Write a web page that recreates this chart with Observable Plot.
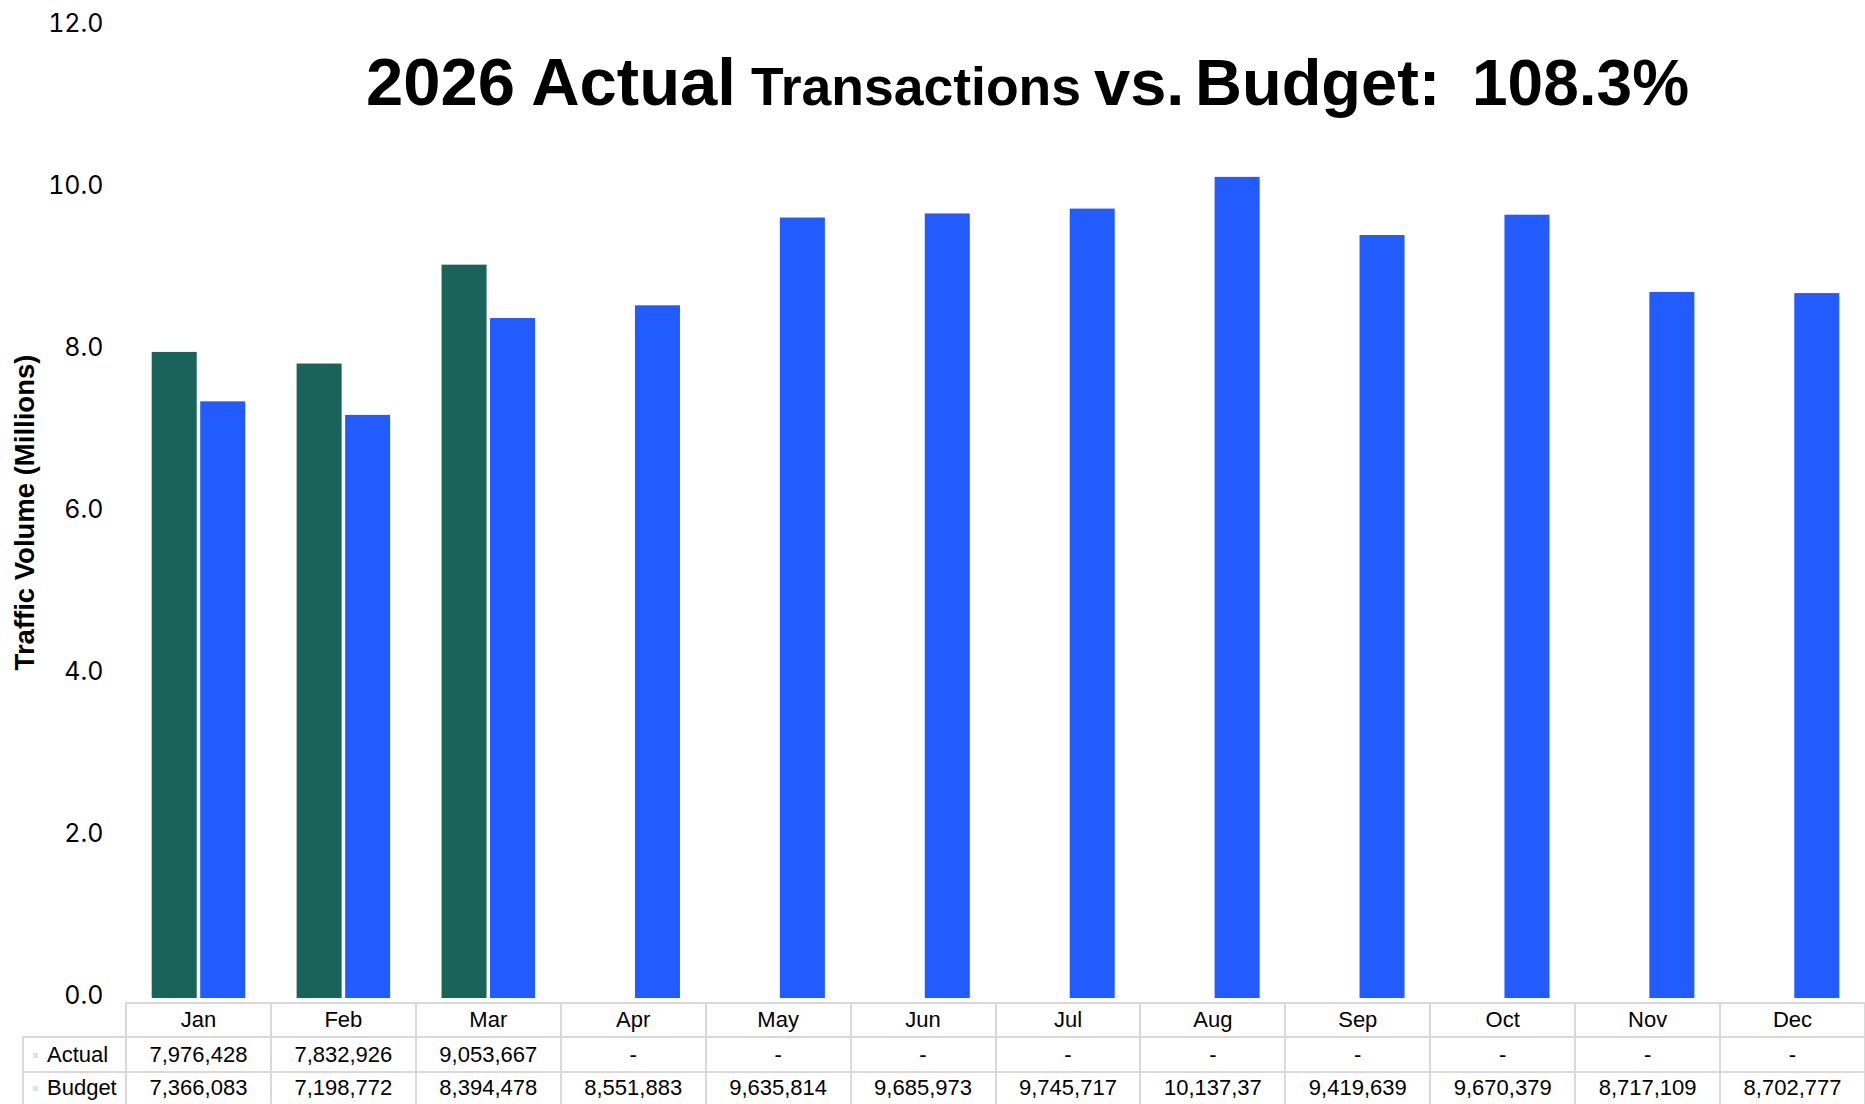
<!DOCTYPE html>
<html><head><meta charset="utf-8">
<script src="https://cdn.jsdelivr.net/npm/d3@7"></script>
<script src="https://cdn.jsdelivr.net/npm/@observablehq/plot@0.6"></script>
<style>
body{margin:0;background:#fff;}
#wrap{position:relative;width:1865px;height:1104px;overflow:hidden;font-family:"Liberation Sans",Arial,sans-serif;background:#fff;}
#wrap svg{position:absolute;left:0;top:0;}
.t{position:absolute;white-space:pre;font-weight:bold;color:#000;line-height:1;}
.ln{position:absolute;background:#d9d9d9;}
.cell{position:absolute;font-size:22px;color:#000;white-space:nowrap;overflow:hidden;}
.mk{position:absolute;width:5px;height:5px;opacity:0.18;}
</style></head><body><div id="wrap"></div>
<script>
// ---- data ----
const months = ["Jan","Feb","Mar","Apr","May","Jun","Jul","Aug","Sep","Oct","Nov","Dec"];
const series = ["Actual","Budget"];
const actual = [7976428, 7832926, 9053667, null, null, null, null, null, null, null, null, null];
const budget = [7366083, 7198772, 8394478, 8551883, 9635814, 9685973, 9745717, 10137370, 9419639, 9670379, 8717109, 8702777];
const colors = ["#1a635a", "#225bff"];
const yTicks = [0, 2, 4, 6, 8, 10, 12];
const yLabel = "Traffic Volume (Millions)";
const titleParts = ["2026 Actual", "Transactions", "vs.", "Budget:", "108.3%"];

// ---- rows for the bars ----
const rows = [];
months.forEach((m, i) => {
  if (actual[i] != null) rows.push({month: m, series: "Actual", value: actual[i] / 1e6});
  if (budget[i] != null) rows.push({month: m, series: "Budget", value: budget[i] / 1e6});
});

const W = 1865, ML = 126;
const plot = Plot.plot({
  width: W, height: 1003,
  marginLeft: ML, marginRight: 0, marginTop: 26, marginBottom: 5,
  style: {fontFamily: "Inter, sans-serif", background: "transparent", overflow: "visible"},
  fx: {domain: months, padding: 0, round: false, axis: null},
  x: {domain: series, paddingInner: 0.072, paddingOuter: 0.53, round: false, axis: null},
  y: {domain: [0, 12], axis: null},
  color: {domain: series, range: colors},
  marks: [
    Plot.barY(rows, {fx: "month", x: "series", y: "value", fill: "series"}),
    Plot.axisY({ticks: yTicks, tickFormat: d3.format(".1f"), tickSize: 0, tickPadding: 23, fontSize: 25, dy: -3, label: null, anchor: "left"}),
    Plot.text([{m: months[0], t: yLabel}], {fx: "m", text: "t", frameAnchor: "left", textAnchor: "middle", rotate: -90, dx: -101, fontSize: 27.5, fontWeight: "bold", fontFamily: "Liberation Sans, Arial, sans-serif", fill: "black"})
  ]
});
const wrap = document.getElementById("wrap");
wrap.appendChild(plot);

// ---- title ----
const tSizes = [67, 53.5, 65, 65, 64];
const tLeft = [366, 751, 1094, 1195, 1472];
const baseline = 105;
titleParts.forEach((txt, i) => {
  const s = document.createElement("div");
  s.className = "t";
  s.textContent = txt;
  s.style.fontSize = tSizes[i] + "px";
  s.style.left = tLeft[i] + "px";
  s.style.top = (baseline - 0.8465 * tSizes[i]) + "px";
  wrap.appendChild(s);
});

// ---- data table ----
const colW = (W - ML) / 12;
const lc = 23;
function line(x, y, w, h) {
  const d = document.createElement("div");
  d.className = "ln";
  Object.assign(d.style, {left: x + "px", top: y + "px", width: w + "px", height: h + "px"});
  wrap.appendChild(d);
}
function cell(txt, x, y, w, h, align, pad) {
  const d = document.createElement("div");
  d.className = "cell";
  d.textContent = txt;
  Object.assign(d.style, {left: x + "px", top: y + "px", width: w + "px", height: h + "px", lineHeight: h + "px", textAlign: align, paddingLeft: (pad || 0) + "px", boxSizing: "border-box"});
  wrap.appendChild(d);
}
const rowTops = [1003, 1037, 1072], rowH = [34, 35, 32];
line(ML, 1002, W - ML, 2);
line(lc, 1036, W - lc, 2);
line(lc, 1071, W - lc, 2);
line(lc - 1, 1036, 2, 70);
for (let k = 0; k <= 12; k++) line(ML + k * colW - 1, 1002, 2, 104);
const fmt = d3.format(",");
months.forEach((m, i) => {
  const x = ML + i * colW;
  cell(m, x, rowTops[0], colW, rowH[0], "center");
  cell(actual[i] == null ? "-" : fmt(actual[i]), x, rowTops[1], colW, rowH[1], "center");
  cell(budget[i] == null ? "-" : fmt(budget[i]).slice(0, 9), x, rowTops[2], colW, rowH[2], "center");
});
series.forEach((s, j) => {
  cell(s, lc, rowTops[j + 1], ML - lc, rowH[j + 1], "left", 24);
  const mk = document.createElement("div");
  mk.className = "mk";
  mk.style.background = colors[j];
  mk.style.left = (lc + 10) + "px";
  mk.style.top = (rowTops[j + 1] + rowH[j + 1] / 2 - 2) + "px";
  wrap.appendChild(mk);
});
</script></body></html>
